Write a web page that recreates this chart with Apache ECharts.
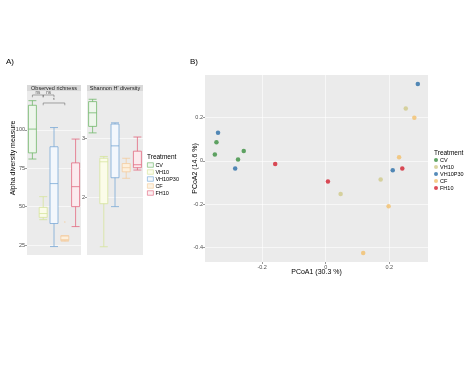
<!DOCTYPE html>
<html><head><meta charset="utf-8">
<script src="https://cdn.jsdelivr.net/npm/echarts@6/dist/echarts.min.js"></script>
<style>html,body{margin:0;padding:0;background:#fff}#c{width:474px;height:366px}</style>
</head><body><div id="c"></div>
<script>
const groups = ['CV','VH10','VH10P30','CF','FH10'];
// boxplots: [min, Q1, median, Q3, max]
const richnessBox = [
  [81, 85, 100.5, 116, 119],
  [41.5, 43, 45.5, 49.5, 56.5],
  [24, 39, 65, 89, 101.5],
  [27.5, 28, 28.5, 31, 31],
  [37, 50, 63, 78.5, 94]
];
const richnessOutliers = [[3, 40]];
const shannonBox = [
  [3.09, 3.20, 3.43, 3.62, 3.66],
  [1.16, 1.89, 2.60, 2.66, 2.69],
  [1.84, 2.33, 2.87, 3.24, 3.26],
  [2.32, 2.43, 2.50, 2.57, 2.66],
  [2.46, 2.50, 2.55, 2.78, 3.02]
];
const richnessTicks = [25, 50, 75, 100];
const shannonTicks = [2, 3];
// significance brackets (group index from/to, y value, label)
const sigFrom = [0, 1, 1];
const sigTo = [1, 2, 3];
const sigY = [122.7, 122.7, 117.5];
const sigLabel = ['ns', 'ns', '*'];
// PCoA points [PCoA1, PCoA2]
const pcoaCV = [[-0.344, 0.085], [-0.349, 0.029], [-0.258, 0.045], [-0.276, 0.006]];
const pcoaVH10 = [[0.047, -0.153], [0.173, -0.086], [0.252, 0.241]];
const pcoaVH10P30 = [[-0.339, 0.129], [-0.285, -0.035], [0.211, -0.043], [0.290, 0.353]];
const pcoaCF = [[0.198, -0.209], [0.118, -0.424], [0.231, 0.016], [0.279, 0.198]];
const pcoaFH10 = [[-0.159, -0.015], [0.007, -0.095], [0.241, -0.035]];
const pcoaXTicks = [-0.2, 0, 0.2];
const pcoaYTicks = [-0.4, -0.2, 0, 0.2];

const boxStroke = ['#72b86c', '#d6e49c', '#78a8d6', '#f4cc9e', '#e2687f'];
const boxFill = ['#eef6ec', '#fbfce9', '#f3f7fc', '#fdf0dd', '#fbebee'];
const dotColor = ['#3a8f3e', '#cfc98a', '#2a6ea8', '#f2bf6c', '#d31f2e'];
const pcoaSets = [pcoaCV, pcoaVH10, pcoaVH10P30, pcoaCF, pcoaFH10];

const BG = '#ebebeb';
const FONT = 'Liberation Sans';
const tickLbl = {fontSize: 5.5, color: '#4d4d4d', margin: 2, fontFamily: FONT};
const tick = {show: true, length: 2, lineStyle: {color: '#333', width: 0.5}};
const split = {show: true, lineStyle: {color: '#fff', width: 0.6}};
const noLine = {show: false, onZero: false};

const chart = echarts.init(document.getElementById('c'), null, {renderer: 'canvas'});

const series = [];
series.push({
  type: 'boxplot', xAxisIndex: 0, yAxisIndex: 0, boxWidth: [8, 8], silent: true,
  data: richnessBox.map((v, i) => ({value: v, itemStyle: {color: boxFill[i], borderColor: boxStroke[i], borderWidth: 0.8}}))
});
series.push({
  type: 'scatter', xAxisIndex: 0, yAxisIndex: 0, symbolSize: 1.6, silent: true,
  data: richnessOutliers.map(o => ({value: [groups[o[0]], o[1]], itemStyle: {color: boxStroke[o[0]]}}))
});
series.push({
  type: 'boxplot', xAxisIndex: 1, yAxisIndex: 1, boxWidth: [8, 8], silent: true,
  data: shannonBox.map((v, i) => ({value: v, itemStyle: {color: boxFill[i], borderColor: boxStroke[i], borderWidth: 0.8}}))
});
// significance brackets
sigFrom.forEach((f, k) => {
  const t = sigTo[k], y = sigY[k];
  series.push({
    type: 'line', xAxisIndex: 3, yAxisIndex: 0, symbol: 'none', silent: true,
    lineStyle: {color: '#555', width: 0.5},
    data: [[f, y - 1.5], [f, y], [t, y], [t, y - 1.5]]
  });
  series.push({
    type: 'scatter', xAxisIndex: 3, yAxisIndex: 0, symbolSize: 0, silent: true,
    label: {show: true, position: 'top', distance: 0, formatter: sigLabel[k], fontSize: 4.5, color: '#333'},
    data: [[(f + t) / 2, y]]
  });
});
// PCoA scatter
groups.forEach((g, i) => {
  series.push({
    name: g, type: 'scatter', xAxisIndex: 2, yAxisIndex: 2, symbolSize: 4.5,
    itemStyle: {color: dotColor[i]},
    data: pcoaSets[i]
  });
});

const option = {
  animation: false,
  backgroundColor: '#fff',
  textStyle: {fontFamily: FONT},
  grid: [
    {left: 27, top: 91, width: 54, height: 164, show: true, backgroundColor: BG, borderWidth: 0},
    {left: 87, top: 91, width: 56, height: 164, show: true, backgroundColor: BG, borderWidth: 0},
    {left: 205, top: 75, width: 223, height: 187, show: true, backgroundColor: BG, borderWidth: 0}
  ],
  xAxis: [
    {gridIndex: 0, type: 'category', data: groups, axisLabel: {show: false}, axisTick: {show: false}, axisLine: noLine},
    {gridIndex: 1, type: 'category', data: groups, axisLabel: {show: false}, axisTick: {show: false}, axisLine: noLine},
    {gridIndex: 2, type: 'value', min: -0.38, max: 0.322, position: 'bottom',
      axisLabel: Object.assign({customValues: pcoaXTicks}, tickLbl),
      axisTick: Object.assign({customValues: pcoaXTicks}, tick),
      axisLine: noLine, splitLine: split,
      name: 'PCoA1 (30.3 %)', nameLocation: 'middle', nameGap: 7, nameMoveOverlap: false,
      nameTextStyle: {fontSize: 7, color: '#000'}},
    {gridIndex: 0, type: 'value', min: -0.5, max: 4.5, show: false}
  ],
  yAxis: [
    {gridIndex: 0, type: 'value', min: 18.5, max: 125.3, position: 'left',
      axisLabel: Object.assign({customValues: richnessTicks}, tickLbl),
      axisTick: Object.assign({customValues: richnessTicks}, tick),
      axisLine: noLine, splitLine: split},
    {gridIndex: 1, type: 'value', min: 1.02, max: 3.80, position: 'left',
      axisLabel: Object.assign({customValues: shannonTicks}, tickLbl),
      axisTick: Object.assign({customValues: shannonTicks}, tick),
      axisLine: noLine, splitLine: split},
    {gridIndex: 2, type: 'value', min: -0.466, max: 0.395, position: 'left',
      axisLabel: Object.assign({customValues: pcoaYTicks}, tickLbl),
      axisTick: Object.assign({customValues: pcoaYTicks}, tick),
      axisLine: noLine, splitLine: split,
      name: 'PCoA2 (14.6 %)', nameLocation: 'middle', nameGap: 6, nameMoveOverlap: false,
      nameTextStyle: {fontSize: 7, color: '#000'}}
  ],
  legend: [
    {orient: 'vertical', left: 147, top: 162, padding: 0, itemGap: 1, itemWidth: 6, itemHeight: 4.5,
      selectedMode: false, textStyle: {fontSize: 5.5, color: '#000', padding: [0, 0, 0, -3]},
      data: groups.map((g, i) => ({name: g, icon: 'rect', itemStyle: {color: boxFill[i], borderColor: boxStroke[i], borderWidth: 0.8}}))},
    {orient: 'vertical', left: 434, top: 157, padding: 0, itemGap: 1, itemWidth: 4, itemHeight: 4.5,
      selectedMode: false, textStyle: {fontSize: 5.5, color: '#000', padding: [0, 0, 0, -3]},
      data: groups.map((g, i) => ({name: g, icon: 'circle', itemStyle: {color: dotColor[i]}}))}
  ],
  graphic: [
    {type: 'text', left: 6, top: 58, style: {text: 'A)', fontSize: 8, fill: '#000', fontFamily: FONT}},
    {type: 'text', left: 190, top: 58, style: {text: 'B)', fontSize: 8, fill: '#000', fontFamily: FONT}},
    {type: 'text', x: 13, y: 158, rotation: Math.PI / 2, style: {text: 'Alpha diversity measure', fontSize: 7, fill: '#000', align: 'center', verticalAlign: 'middle', fontFamily: FONT}},
    {type: 'rect', shape: {x: 27, y: 85, width: 54, height: 6}, style: {fill: '#d9d9d9'}},
    {type: 'rect', shape: {x: 87, y: 85, width: 56, height: 6}, style: {fill: '#d9d9d9'}},
    {type: 'text', x: 54, y: 88, style: {text: 'Observed richness', fontSize: 5.5, fill: '#1a1a1a', align: 'center', verticalAlign: 'middle', fontFamily: FONT}},
    {type: 'text', x: 115, y: 88, style: {text: "Shannon H' diversity", fontSize: 5.5, fill: '#1a1a1a', align: 'center', verticalAlign: 'middle', fontFamily: FONT}},
    {type: 'text', left: 147, top: 154, style: {text: 'Treatment', fontSize: 6.5, fill: '#000', fontFamily: FONT}},
    {type: 'text', left: 434, top: 150, style: {text: 'Treatment', fontSize: 6.5, fill: '#000', fontFamily: FONT}}
  ],
  series: series
};
chart.setOption(option);
</script>
</body></html>
